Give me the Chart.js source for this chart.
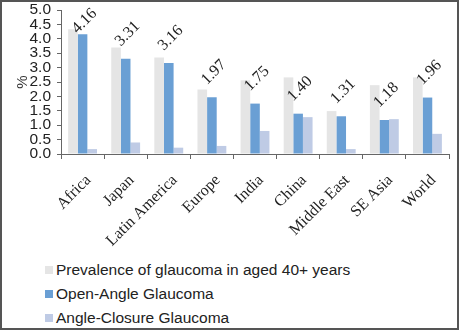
<!DOCTYPE html>
<html>
<head>
<meta charset="utf-8">
<script src="https://cdn.jsdelivr.net/npm/chart.js@4"></script>
<style>
  html, body { margin: 0; padding: 0; background: #fff; }
  #frame { position: relative; width: 459px; height: 330px; box-sizing: border-box; border: 2px solid #555; background: #fff; }
  #wrap { position: absolute; left: 0; top: 0; width: 455px; height: 250px; }
  #legend { position: absolute; left: 43px; top: 256px; font-family: "Liberation Sans", Arial, sans-serif; font-size: 15.5px; color: #222; }
  .item { height: 24px; line-height: 24px; white-space: nowrap; }
  .box { display: inline-block; width: 8px; height: 8px; margin-right: 3px; vertical-align: 1px; }
</style>
</head>
<body>
<div id="frame">
  <div id="wrap"><canvas id="myChart"></canvas></div>
  <div id="legend"></div>
</div>
<script>
// dados
var regioes = ['Africa', 'Japan', 'Latin America', 'Europe', 'India', 'China', 'Middle East', 'SE Asia', 'World'];
var prevalencia = [4.33, 3.70, 3.35, 2.24, 2.56, 2.66, 1.49, 2.39, 2.66];
var anguloAberto = [4.16, 3.31, 3.16, 1.97, 1.75, 1.40, 1.31, 1.18, 1.96];
var anguloFechado = [0.17, 0.40, 0.22, 0.28, 0.80, 1.28, 0.17, 1.21, 0.70];
var ticksY = [0, 0.5, 1, 1.5, 2, 2.5, 3, 3.5, 4, 4.5, 5];

var nomes = ['Prevalence of glaucoma in aged 40+ years', 'Open-Angle Glaucoma', 'Angle-Closure Glaucoma'];
var cores = ['#e5e5e5', '#6a9fd4', '#bfcbe5'];

// rótulos de valor girados acima das barras azuis
var rotulos = {
    id: 'rotulos',
    afterDatasetsDraw: function (chart) {
        var ctx = chart.ctx;
        var meta = chart.getDatasetMeta(1);
        ctx.save();
        ctx.font = '16px "Liberation Serif", "Times New Roman", serif';
        ctx.fillStyle = '#222';
        ctx.textAlign = 'left';
        ctx.textBaseline = 'alphabetic';
        meta.data.forEach(function (bar, i) {
            var y = Math.max(bar.y - 12, 32);
            ctx.save();
            ctx.translate(bar.x - 5, y);
            ctx.rotate(-Math.PI / 4);
            ctx.fillText(anguloAberto[i].toFixed(2), 0, 0);
            ctx.restore();
        });
        ctx.restore();
    }
};

var ctx = document.getElementById('myChart').getContext('2d');
var myChart = new Chart(ctx, {
    type: 'bar',
    data: {
        labels: regioes,
        datasets: [
            { label: nomes[0], data: prevalencia, backgroundColor: cores[0] },
            { label: nomes[1], data: anguloAberto, backgroundColor: cores[1] },
            { label: nomes[2], data: anguloFechado, backgroundColor: cores[2] }
        ]
    },
    options: {
        responsive: true,
        maintainAspectRatio: false,
        animation: false,
        layout: { padding: { top: 8, right: 8, left: 0, bottom: 0 } },
        plugins: {
            legend: { display: false },
            tooltip: { enabled: false }
        },
        datasets: {
            bar: { categoryPercentage: 0.67, barPercentage: 1.0 }
        },
        scales: {
            x: {
                grid: { display: true, offset: true, drawOnChartArea: false, drawTicks: true, tickLength: 5, color: '#666' },
                border: { display: true, color: '#666', width: 1 },
                ticks: {
                    minRotation: 45, maxRotation: 45, autoSkip: false, padding: 12, labelOffset: 6,
                    color: '#222',
                    font: { family: '"Liberation Serif", "Times New Roman", serif', size: 16 }
                },
                afterFit: function (s) { s.height = 98; }
            },
            y: {
                min: 0, max: 5,
                afterBuildTicks: function (s) { s.ticks = ticksY.map(function (v) { return { value: v }; }); },
                grid: { display: true, drawOnChartArea: false, drawTicks: true, tickLength: 4, color: '#666' },
                border: { display: true, color: '#666', width: 1 },
                ticks: {
                    padding: 6, color: '#222', autoSkip: false,
                    font: { family: '"Liberation Sans", Arial, sans-serif', size: 15.5 },
                    callback: function (v) { return Number(v).toFixed(1); }
                },
                title: {
                    display: true, text: '%', color: '#333', padding: { top: 12, bottom: 0 },
                    font: { family: '"Liberation Sans", Arial, sans-serif', size: 15 }
                },
                afterFit: function (s) { s.width = 59; s.paddingTop = 0; s.paddingBottom = 0; }
            }
        }
    },
    plugins: [rotulos]
});

// legenda em HTML, uma linha por série
var leg = document.getElementById('legend');
myChart.data.datasets.forEach(function (ds) {
    var div = document.createElement('div');
    div.className = 'item';
    div.innerHTML = '<span class="box" style="background:' + ds.backgroundColor + '"></span>' + ds.label;
    leg.appendChild(div);
});
</script>
</body>
</html>
